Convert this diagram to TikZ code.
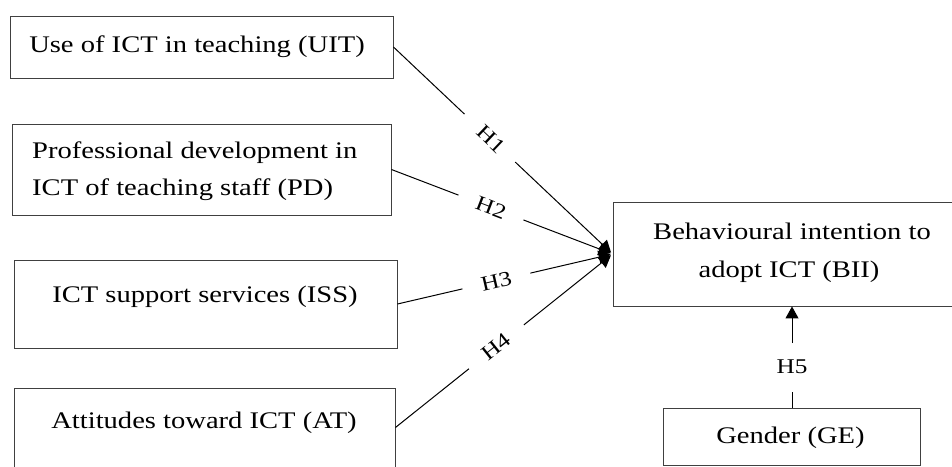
\documentclass[tikz,border=0pt]{standalone}
\usepackage{fontspec}
\setmainfont{Liberation Serif}[FakeStretch=1.2]
\usetikzlibrary{arrows.meta}
\tikzset{
  box/.style={draw=black!75, line width=0.9pt, rectangle, inner sep=0pt},
  txt/.style={inner sep=0pt, anchor=base, font=\fontsize{23.8}{28}\selectfont},
  line/.style={line width=1pt},
  conn/.style={line width=1pt, -{Triangle[length=12pt,width=13pt]}, shorten >=2pt},
  hlab/.style={inner sep=1pt, font=\fontsize{21}{25}\selectfont}
}
\begin{document}
\begin{tikzpicture}[x=1pt,y=-1pt]
\useasboundingbox (0,0) rectangle (952,466);
% boxes
\node[box, minimum width=383pt, minimum height=62pt] (uit) at (201.5,47) {};
\node[box, minimum width=379pt, minimum height=91pt] (pd) at (201.5,169.5) {};
\node[box, minimum width=383pt, minimum height=88pt] (iss) at (205.5,304) {};
\node[box, minimum width=381pt, minimum height=79pt] (at) at (204.5,427.5) {};
\node[box, minimum width=358pt, minimum height=104pt] (bii) at (792,254) {};
\node[box, minimum width=257pt, minimum height=57pt] (ge) at (791.5,436.5) {};
% texts
\node[txt] (tuit) at (197,52) {Use of ICT in teaching (UIT)};
\node[txt, anchor=base west] (tpd1) at (32,158) {Professional development in};
\node[txt, anchor=base west] (tpd2) at (32,195) {ICT of teaching staff (PD)};
\node[txt] (tiss) at (205,302) {ICT support services (ISS)};
\node[txt] (tat) at (204,428) {Attitudes toward ICT (AT)};
\node[txt] (tbii1) at (792,239) {Behavioural intention to};
\node[txt] (tbii2) at (789,277) {adopt ICT (BII)};
\node[txt] (tge) at (790.5,443) {Gender (GE)};
% gap coordinates and labels
\path (uit.east) -- coordinate[pos=0.324] (h1a) node[hlab, sloped, pos=0.445] (h1) {H1} coordinate[pos=0.556] (h1b) (bii.west);
\path (pd.east) -- coordinate[pos=0.303] (h2a) node[hlab, sloped, pos=0.45] (h2) {H2} coordinate[pos=0.597] (h2b) (bii.west);
\path (iss.east) -- coordinate[pos=0.302] (h3a) node[hlab, sloped, pos=0.46] (h3) {H3} coordinate[pos=0.618] (h3b) (bii.west);
\path (at.east) -- coordinate[pos=0.3385] (h4a) node[hlab, sloped, pos=0.465] (h4) {H4} coordinate[pos=0.5915] (h4b) (bii.west);
\path (ge.north -| bii.south) -- coordinate[pos=0.157] (h5a) node[hlab, pos=0.40] (h5) {H5} coordinate[pos=0.637] (h5b) (bii.south);
% connectors
\draw[line] (uit.east) -- (h1a);
\draw[conn] (h1b) -- (bii.west);
\draw[line] (pd.east) -- (h2a);
\draw[conn] (h2b) -- (bii.west);
\draw[line] (iss.east) -- (h3a);
\draw[conn] (h3b) -- (bii.west);
\draw[line] (at.east) -- (h4a);
\draw[conn] (h4b) -- (bii.west);
\draw[line] (ge.north -| bii.south) -- (h5a);
\draw[conn, shorten >=0pt] (h5b) -- (bii.south);
\end{tikzpicture}
\end{document}
